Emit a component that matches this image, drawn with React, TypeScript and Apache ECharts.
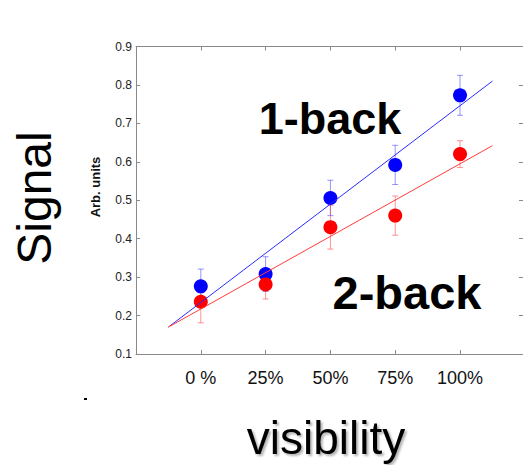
import React, { useEffect, useRef } from "react";
import * as echarts from "echarts";

// ---- data ----
const visibility = [0, 25, 50, 75, 100];
const xTickLabels = ["0 %", "25%", "50%", "75%", "100%"];

const oneBackMean = [0.276, 0.308, 0.506, 0.592, 0.773];
const oneBackErr = [0.045, 0.045, 0.046, 0.051, 0.052];

const twoBackMean = [0.236, 0.281, 0.43, 0.46, 0.62];
const twoBackErr = [0.055, 0.038, 0.057, 0.051, 0.035];

// regression line end points
const fitX = [-12.5, 112.5];
const oneBackFit = [0.17, 0.81];
const twoBackFit = [0.17, 0.642];

const FONT = "'Liberation Sans', Arial, Helvetica, sans-serif";
const AXIS = "#8a8a8a";

export default function App() {
  const ref = useRef<HTMLDivElement>(null);

  useEffect(() => {
    document.body.style.margin = "0";
    document.body.style.overflow = "hidden";
    const chart = echarts.init(ref.current!, null, { renderer: "svg" });

    const errSeries = (mean: number[], err: number[], color: string, z: number) => ({
      type: "custom",
      z,
      silent: true,
      data: visibility.map((v, i) => [v, mean[i] - err[i], mean[i] + err[i]]),
      renderItem: (_p: any, api: any) => {
        const x = api.value(0);
        const lo = api.coord([x, api.value(1)]);
        const hi = api.coord([x, api.value(2)]);
        const w = 3;
        const style = { stroke: color, lineWidth: 1 };
        return {
          type: "group",
          children: [
            { type: "line", shape: { x1: hi[0], y1: hi[1], x2: lo[0], y2: lo[1] }, style },
            { type: "line", shape: { x1: hi[0] - w, y1: hi[1], x2: hi[0] + w, y2: hi[1] }, style },
            { type: "line", shape: { x1: lo[0] - w, y1: lo[1], x2: lo[0] + w, y2: lo[1] }, style },
          ],
        };
      },
    });

    const tickLabel = (v: number) => {
      const i = visibility.indexOf(Math.round(v * 1000) / 1000);
      return i >= 0 ? xTickLabels[i] : "";
    };

    const commonX = {
      type: "value",
      min: -25,
      max: 124.3,
      interval: 25,
      splitLine: { show: false },
      axisLine: { show: true, onZero: false, lineStyle: { color: AXIS, width: 1 } },
      axisTick: { show: true, inside: true, length: 4, lineStyle: { color: AXIS } },
    };
    const commonY = {
      type: "value",
      min: 0.1,
      max: 0.9,
      interval: 0.1,
      splitLine: { show: false },
      axisLine: { show: true, onZero: false, lineStyle: { color: AXIS, width: 1 } },
      axisTick: { show: true, inside: true, length: 4, lineStyle: { color: AXIS } },
    };

    chart.setOption({
      animation: false,
      backgroundColor: "#ffffff",
      grid: { left: 136, top: 46.5, width: 388.3, height: 307.5 },
      xAxis: [
        {
          ...commonX,
          position: "bottom",
          axisLabel: {
            formatter: tickLabel,
            fontSize: 18,
            color: "#111",
            fontFamily: FONT,
            margin: 15,
          },
        },
        { ...commonX, position: "top", axisLabel: { show: false } },
      ],
      yAxis: [
        {
          ...commonY,
          position: "left",
          axisLabel: {
            formatter: (v: number) => v.toFixed(1),
            fontSize: 12,
            color: "#222",
            fontFamily: FONT,
            margin: 4,
          },
        },
        { ...commonY, position: "right", axisLabel: { show: false } },
      ],
      series: [
        errSeries(oneBackMean, oneBackErr, "rgba(60,60,255,0.55)", 1),
        errSeries(twoBackMean, twoBackErr, "rgba(255,60,60,0.55)", 1),
        {
          type: "scatter",
          name: "1-back",
          z: 2,
          symbol: "circle",
          symbolSize: 14,
          itemStyle: { color: "#0000ff", opacity: 1 },
          data: visibility.map((v, i) => [v, oneBackMean[i]]),
        },
        {
          type: "scatter",
          name: "2-back",
          z: 3,
          symbol: "circle",
          symbolSize: 14,
          itemStyle: { color: "#ff0000", opacity: 1 },
          data: visibility.map((v, i) => [v, twoBackMean[i]]),
        },
        {
          type: "line",
          z: 4,
          showSymbol: false,
          symbol: "none",
          lineStyle: { color: "#2b2bff", width: 1 },
          data: fitX.map((x, i) => [x, oneBackFit[i]]),
        },
        {
          type: "line",
          z: 4,
          showSymbol: false,
          symbol: "none",
          lineStyle: { color: "#ff3b3b", width: 1 },
          data: fitX.map((x, i) => [x, twoBackFit[i]]),
        },
      ],
      graphic: [
        {
          type: "text",
          x: 34,
          y: 198,
          rotation: Math.PI / 2,
          style: {
            text: "Signal",
            font: `48px ${FONT}`,
            fill: "#000",
            align: "center",
            verticalAlign: "middle",
          },
        },
        {
          type: "text",
          x: 95.5,
          y: 187,
          rotation: Math.PI / 2,
          style: {
            text: "Arb. units",
            font: `bold 13px ${FONT}`,
            fill: "#111",
            align: "center",
            verticalAlign: "middle",
          },
        },
        {
          type: "text",
          x: 326,
          y: 438,
          style: {
            text: "visibility",
            font: `46px ${FONT}`,
            fill: "#000",
            align: "center",
            verticalAlign: "middle",
            textShadowColor: "rgba(0,0,0,0.3)",
            textShadowOffsetX: 2,
            textShadowOffsetY: 2,
            textShadowBlur: 2,
          },
        },
        {
          type: "text",
          x: 330,
          y: 118,
          z: 10,
          style: {
            text: "1-back",
            font: `bold 45px ${FONT}`,
            fill: "#000",
            align: "center",
            verticalAlign: "middle",
          },
        },
        {
          type: "text",
          x: 407,
          y: 292,
          z: 10,
          style: {
            text: "2-back",
            font: `bold 47px ${FONT}`,
            fill: "#000",
            align: "center",
            verticalAlign: "middle",
          },
        },
        {
          type: "rect",
          shape: { x: 84, y: 398, width: 3, height: 2 },
          style: { fill: "#000" },
        },
      ],
    });

    return () => chart.dispose();
  }, []);

  return (
    <div
      ref={ref}
      style={{ position: "fixed", left: 0, top: 0, width: 526, height: 465 }}
    />
  );
}
